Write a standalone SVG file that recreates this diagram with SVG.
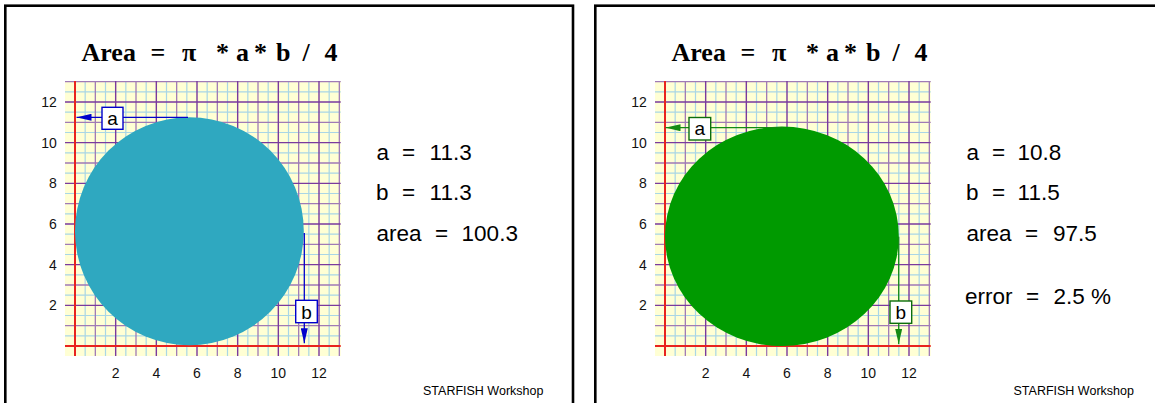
<svg xmlns="http://www.w3.org/2000/svg" width="1155" height="403" viewBox="0 0 1155 403">
<style>
.frame{fill:#ffffff;stroke:#000000;stroke-width:2.6}
.paper{fill:#ffffd4}
.half{stroke:#a9d6e6;stroke-width:1.2;fill:none}
.odd{stroke:#a07ab6;stroke-width:1.3;fill:none}
.even{stroke:#7a3a9e;stroke-width:1.4;fill:none}
.axis{stroke:#e8231e;stroke-width:2;fill:none}
.tick{font-family:"Liberation Sans",Arial,sans-serif;font-size:14px;fill:#111111}
.tickx{text-anchor:middle}
.ticky{text-anchor:end}
.title{font-family:"Liberation Serif","Times New Roman",serif;font-size:26px;font-weight:bold;fill:#000000}
.val{font-family:"Liberation Sans",Arial,sans-serif;font-size:22.5px;fill:#000000}
.foot{font-family:"Liberation Sans",Arial,sans-serif;font-size:12.5px;fill:#000000}
.lbl{font-family:"Liberation Sans",Arial,sans-serif;font-size:19px;fill:#000000;text-anchor:middle}
.boxB{fill:#ffffff;stroke:#0000cc;stroke-width:1.4}
.boxG{fill:#ffffff;stroke:#0b6e0b;stroke-width:1.4}
.lineB{stroke:#0000cc;stroke-width:1.3;fill:none}
.lineG{stroke:#138a13;stroke-width:1.3;fill:none}
</style>
<defs>
<marker id="ahB" markerWidth="15" markerHeight="7" refX="15" refY="3.5" orient="auto" markerUnits="userSpaceOnUse"><path d="M0,0 L15,3.5 L0,7 z" fill="#0000cc"/></marker>
<marker id="ahG" markerWidth="15" markerHeight="7" refX="15" refY="3.5" orient="auto" markerUnits="userSpaceOnUse"><path d="M0,0 L15,3.5 L0,7 z" fill="#138a13"/></marker>
<g id="grid">
<rect class="paper" x="65" y="81" width="275.7" height="275"/>
<path class="half" d="M85.17,81V356M105.5,81V356M125.83,81V356M146.17,81V356M166.5,81V356M186.83,81V356M207.17,81V356M227.5,81V356M247.83,81V356M268.17,81V356M288.5,81V356M308.83,81V356M329.17,81V356M65,335.83H340.7M65,315.5H340.7M65,295.17H340.7M65,274.83H340.7M65,254.5H340.7M65,234.17H340.7M65,213.83H340.7M65,193.5H340.7M65,173.17H340.7M65,152.83H340.7M65,132.5H340.7M65,112.17H340.7M65,91.83H340.7"/>
<path class="odd" d="M95.33,81V356M136,81V356M176.67,81V356M217.33,81V356M258,81V356M298.67,81V356M339.33,81V356M65,325.67H340.7M65,285H340.7M65,244.33H340.7M65,203.67H340.7M65,163H340.7M65,122.33H340.7M65,81.67H340.7"/>
<path class="even" d="M115.67,81V356M156.33,81V356M197,81V356M237.67,81V356M278.33,81V356M319,81V356M65,305.33H340.7M65,264.67H340.7M65,224H340.7M65,183.33H340.7M65,142.67H340.7M65,102H340.7"/>
<path class="axis" d="M75,81V356M65,346H340.7"/>
</g>
</defs>

<g id="panel-left">
<rect class="frame" x="5.3" y="5.7" width="567.7" height="410"/>
<text class="title" y="60.5"><tspan x="81.5">Area</tspan><tspan x="150.5">=</tspan><tspan x="182">π</tspan><tspan x="216">*</tspan><tspan x="236">a</tspan><tspan x="254">*</tspan><tspan x="276">b</tspan><tspan x="302.5">/</tspan><tspan x="324.5">4</tspan></text>
<use href="#grid"/>
<g class="tick tickx">
<text x="115.67" y="377.5">2</text><text x="156.33" y="377.5">4</text><text x="197" y="377.5">6</text><text x="237.67" y="377.5">8</text><text x="278.33" y="377.5">10</text><text x="319" y="377.5">12</text>
</g>
<g class="tick ticky">
<text x="56.8" y="107">12</text><text x="56.8" y="147.6">10</text><text x="56.8" y="188.3">8</text><text x="56.8" y="229">6</text><text x="56.8" y="269.6">4</text><text x="56.8" y="310.3">2</text>
</g>
<ellipse id="shape-left" cx="189.4" cy="231.2" rx="114.4" ry="114" fill="#2fa8c0"/>
<text class="val" y="160"><tspan x="376.5">a</tspan><tspan x="402">=</tspan><tspan x="429.6">11.3</tspan></text>
<text class="val" y="200"><tspan x="376">b</tspan><tspan x="402">=</tspan><tspan x="429.6">11.3</tspan></text>
<text class="val" y="240.7"><tspan x="376.5">area</tspan><tspan x="435">=</tspan><tspan x="461.6">100.3</tspan></text>
<text class="foot" x="423" y="395">STARFISH Workshop</text>
</g>

<g id="panel-right">
<rect class="frame" x="595.3" y="5.7" width="567.7" height="410"/>
<text class="title" y="60.5"><tspan x="671.5">Area</tspan><tspan x="740.5">=</tspan><tspan x="772">π</tspan><tspan x="806">*</tspan><tspan x="826">a</tspan><tspan x="844">*</tspan><tspan x="866">b</tspan><tspan x="892.5">/</tspan><tspan x="914.5">4</tspan></text>
<use href="#grid" transform="translate(590,0)"/>
<g class="tick tickx">
<text x="705.67" y="377.5">2</text><text x="746.33" y="377.5">4</text><text x="787" y="377.5">6</text><text x="827.67" y="377.5">8</text><text x="868.33" y="377.5">10</text><text x="909" y="377.5">12</text>
</g>
<g class="tick ticky">
<text x="646.8" y="107">12</text><text x="646.8" y="147.6">10</text><text x="646.8" y="188.3">8</text><text x="646.8" y="229">6</text><text x="646.8" y="269.6">4</text><text x="646.8" y="310.3">2</text>
</g>
<ellipse id="shape-right" cx="781.9" cy="236.3" rx="116.9" ry="109.7" fill="#009a00"/>
<text class="val" y="160"><tspan x="966.5">a</tspan><tspan x="992">=</tspan><tspan x="1017.6">10.8</tspan></text>
<text class="val" y="200"><tspan x="966">b</tspan><tspan x="992">=</tspan><tspan x="1017.6">11.5</tspan></text>
<text class="val" y="240.7"><tspan x="966.5">area</tspan><tspan x="1025">=</tspan><tspan x="1053">97.5</tspan></text>
<text class="val" y="304"><tspan x="965">error</tspan><tspan x="1026">=</tspan><tspan x="1053.5">2.5 %</tspan></text>
<text class="foot" x="1013.5" y="395">STARFISH Workshop</text>
</g>

<g id="connectors">
<line class="lineB" x1="188" y1="117.3" x2="76.5" y2="117.3" marker-end="url(#ahB)"/>
<line class="lineB" x1="304.3" y1="233" x2="304.3" y2="343.3" marker-end="url(#ahB)"/>
<line class="lineG" x1="783" y1="127.7" x2="665.5" y2="127.7" marker-end="url(#ahG)"/>
<line class="lineG" x1="898.7" y1="236.7" x2="898.7" y2="344" marker-end="url(#ahG)"/>
<g id="label-a-left"><rect class="boxB" x="102" y="107.3" width="21" height="22"/><text class="lbl" x="112.5" y="124.5">a</text></g>
<g id="label-b-left"><rect class="boxB" x="295.7" y="300.3" width="21.6" height="22.4"/><text class="lbl" x="306.5" y="318.5">b</text></g>
<g id="label-a-right"><rect class="boxG" x="689" y="117.5" width="21.7" height="22.5"/><text class="lbl" x="699.9" y="135">a</text></g>
<g id="label-b-right"><rect class="boxG" x="890" y="301" width="21.7" height="22.3"/><text class="lbl" x="900.9" y="318.7">b</text></g>
</g>
</svg>
